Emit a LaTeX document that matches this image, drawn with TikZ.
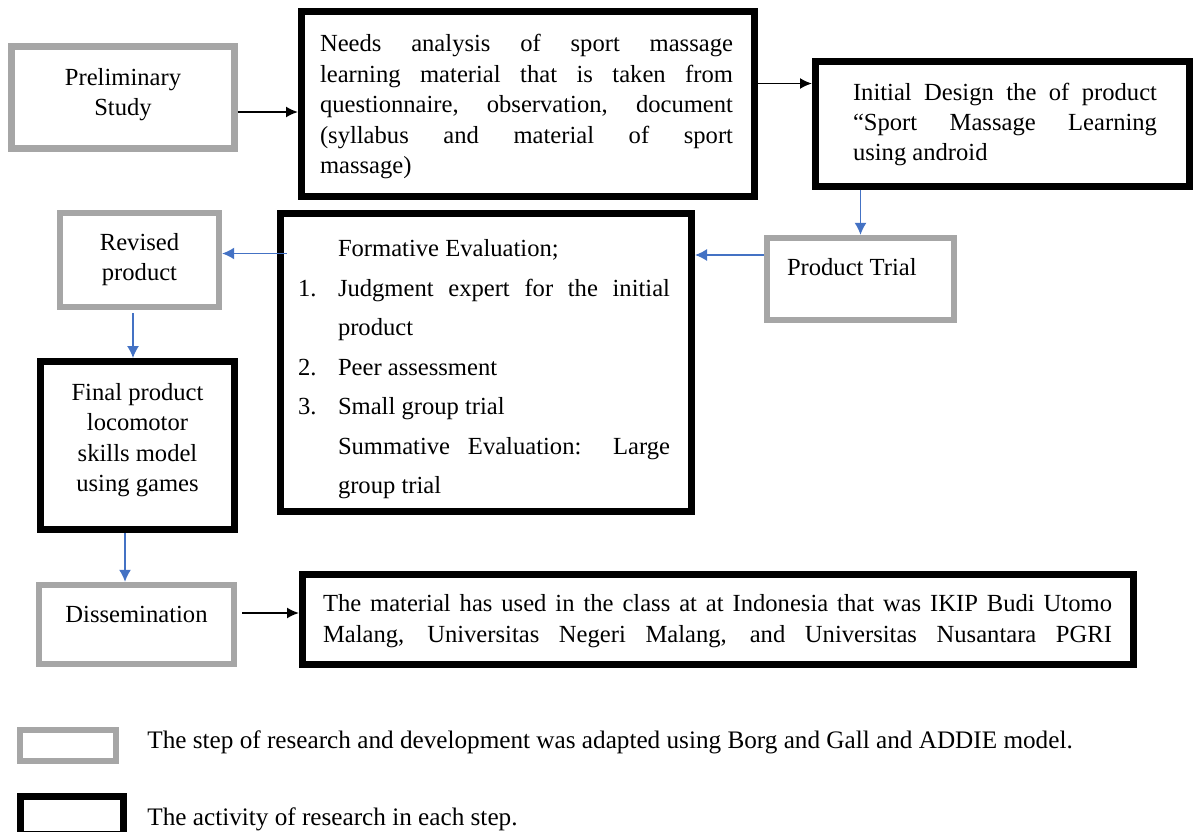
\documentclass[tikz,border=0pt]{standalone}
\usepackage{fontspec}
\setmainfont{Liberation Serif}
\usetikzlibrary{arrows.meta,positioning}

\definecolor{stepgray}{HTML}{A6A6A6}
\definecolor{flowblue}{HTML}{4472C4}

% box content: width, height, first baseline, text
\newcommand{\boxtext}[4]{\parbox[c][#2][t]{#1}{\rule{0pt}{#3}#4}}

\tikzset{
    stepbox/.style={draw=stepgray,line width=3.2pt,inner sep=0pt,fill=white},
    actbox/.style={draw=black,line width=3.5pt,inner sep=0pt,fill=white},
    blackarrow/.style={draw=black,line width=0.9pt,-{Latex[length=6pt,width=5.5pt]}},
    bluearrow/.style={draw=flowblue,line width=0.7pt,-{Latex[length=6pt,width=6pt]}},
    boxfont/.style={font=\fontsize{12.3pt}{#1}\selectfont},
    legendtext/.style={anchor=base west,inner sep=0pt,font=\fontsize{12.6pt}{15pt}\selectfont},
}

\begin{document}
\begin{tikzpicture}[x=0.5pt,y=-0.5pt]
    \useasboundingbox (0,0) rectangle (1194,831);
    \pgfmathsetmacro{\ind}{28.75}
    % steps and activities
    \node[stepbox,boxfont=15pt] (prelim) at (123,97.5)
    {\boxtext{111.5pt}{51pt}{19.5pt}{\centering Preliminary\\Study}};
    \node[actbox,boxfont=15.25pt] (needs) at (528,104)
    {\boxtext{226.5pt}{92.5pt}{20pt}{%
        \hspace*{9.25pt}\makebox[206.5pt][s]{Needs analysis of sport massage}\\
        \hspace*{9.25pt}\makebox[206.5pt][s]{learning material that is taken from}\\
        \hspace*{9.25pt}\makebox[206.5pt][s]{questionnaire, observation, document}\\
        \hspace*{9.25pt}\makebox[206.5pt][s]{(syllabus and material of sport}\\
        \hspace*{9.25pt}massage)}};
    \node[actbox,boxfont=15pt] (initial) at (1002.5,124)
    {\boxtext{187pt}{62.5pt}{19.5pt}{%
        \hspace*{18.75pt}\makebox[152pt][s]{Initial Design the of product}\\
        \hspace*{18.75pt}\makebox[152pt][s]{“Sport Massage Learning}\\
        \hspace*{18.75pt}using android}};
    \node[stepbox,boxfont=15pt] (trial) at (860.5,279)
    {\boxtext{93.5pt}{41pt}{18.75pt}{\hspace*{10pt}Product Trial}};
    \node[actbox,boxfont=19.75pt] (formative) at (486,362.5)
    {\boxtext{205.5pt}{149pt}{21.5pt}{%
        \hspace*{\ind pt}Formative Evaluation;\\
        \hspace*{8.75pt}\makebox[20pt][l]{1.}\makebox[166pt][s]{Judgment expert for the initial}\\
        \hspace*{\ind pt}product\\
        \hspace*{8.75pt}\makebox[20pt][l]{2.}Peer assessment\\
        \hspace*{8.75pt}\makebox[20pt][l]{3.}Small group trial\\
        \hspace*{\ind pt}\makebox[166pt][s]{Summative Evaluation: Large}\\
        \hspace*{\ind pt}group trial}};
    \node[stepbox,boxfont=15pt] (revised) at (139.5,260)
    {\boxtext{79.5pt}{47pt}{18.75pt}{\centering Revised\\product}};
    \node[actbox,boxfont=15.2pt] (final) at (137.5,445.5)
    {\boxtext{97pt}{84pt}{19.5pt}{\centering Final product\\locomotor\\skills model\\using games}};
    \node[stepbox,boxfont=15pt] (dissem) at (136.5,624.5)
    {\boxtext{97.5pt}{39.5pt}{18.5pt}{\centering Dissemination}};
    \node[actbox,boxfont=15.5pt] (material) at (718,619.5)
    {\boxtext{415.5pt}{45pt}{18.5pt}{%
        \hspace*{10.25pt}\makebox[394.5pt][s]{The material has used in the class at at Indonesia that was IKIP Budi Utomo}\\
        \hspace*{10.25pt}\makebox[394.5pt][s]{Malang, Universitas Negeri Malang, and Universitas Nusantara PGRI}}};

    % connectors
    \draw[blackarrow] ([yshift=-7.25pt]prelim.east) -- ([yshift=-7.25pt]prelim.east -| needs.west);
    \draw[blackarrow] ([yshift=10.25pt]needs.east) -- ([yshift=10.25pt]needs.east -| initial.west);
    \draw[bluearrow] (initial.south -| trial.north) -- (trial.north);
    \draw[bluearrow] ([yshift=12pt]trial.west) -- ([yshift=12pt]trial.west -| formative.east);
    \draw[bluearrow,shorten <=-5pt] ([yshift=54.5pt]formative.west) -- ([yshift=54.5pt]formative.west -| revised.east);
    \draw[bluearrow,shorten <=1.5pt] ([xshift=-3.25pt]revised.south) -- ([xshift=-3.25pt]revised.south |- final.north);
    \draw[bluearrow] ([xshift=-6.25pt]final.south) -- ([xshift=-6.25pt]final.south |- dissem.north);
    \draw[blackarrow,shorten <=2.5pt] ([yshift=5.75pt]dissem.east) -- ([yshift=5.75pt]dissem.east -| material.west);

    % legend
    \node[stepbox,minimum width=48pt,minimum height=15.5pt] (legstep) at (68,745.5) {};
    \node[legendtext] (legsteptext) at (147,748)
    {The step of research and development was adapted using Borg and Gall and ADDIE model.};
    \node[actbox,minimum width=51.5pt,minimum height=19pt] (legact) at (72,815.5) {};
    \node[legendtext] (legacttext) at (147,825)
    {The activity of research in each step.};
\end{tikzpicture}
\end{document}
